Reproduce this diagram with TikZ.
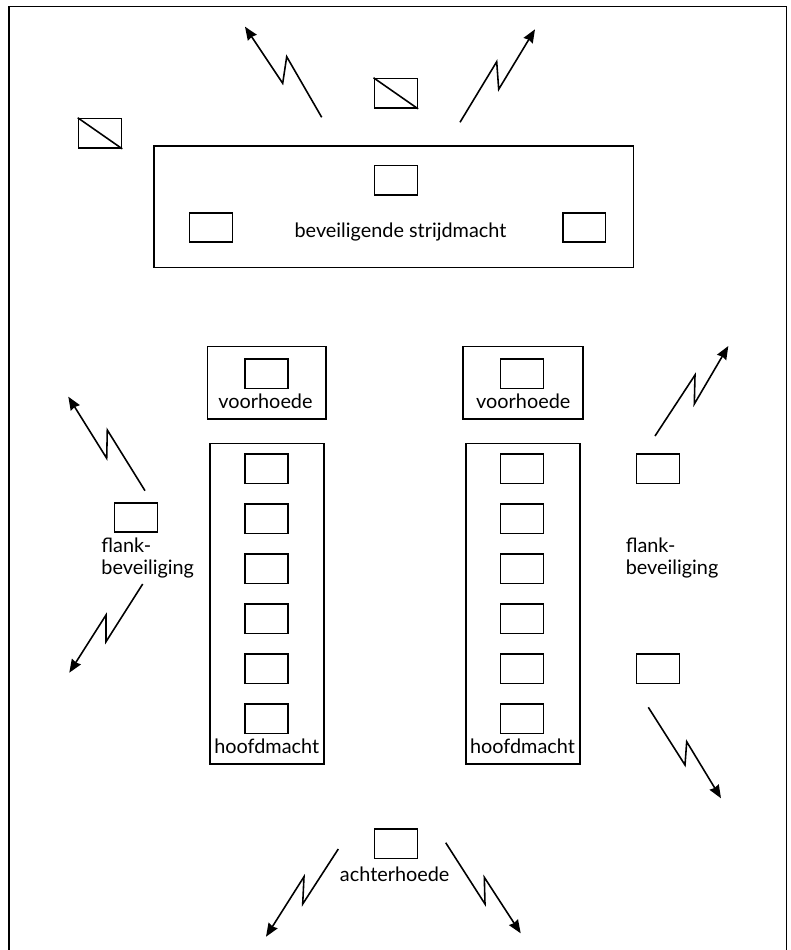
\documentclass[tikz,border=0pt]{standalone}
\usepackage{fontspec}
\setmainfont{Lato}
\usetikzlibrary{arrows.meta}

\begin{document}
\begin{tikzpicture}[x=0.02cm, y=-0.02cm, line width=0.9pt,
	unit/.style={draw, minimum width=0.86cm, minimum height=0.59cm, inner sep=0pt},
	frame/.style={draw, inner sep=0pt},
	lbl/.style={font=\fontsize{11.3}{12.5}\selectfont, inner sep=0pt},
	bolt/.style={-{Stealth[length=7.5pt,width=6pt,inset=0.6pt]}}]
	\useasboundingbox (0,0) rectangle (791,950);
	\draw[line width=0.6pt] (9,950) -- (9,6.7) -- (786.3,6.7) -- (786.3,950);
	% beveiligende strijdmacht
	\draw (393.7,206.9) node[frame, minimum width=9.59cm, minimum height=2.43cm](force) {};
	\draw (395.8,180.3) node[unit](fc) {};
	\draw (210.8,227.5) node[unit](fl) {};
	\draw (584.2,227.5) node[unit](fr) {};
	\draw (400.5,237.3) node[lbl, anchor=base](forcetxt) {beveiligende strijdmacht};
	\draw (100,133.3) node[unit](x1) {};
	\draw (x1.north west) -- (x1.south east);
	\draw (395.8,93.3) node[unit](x2) {};
	\draw (x2.north west) -- (x2.south east);
	\draw[bolt] (321.7,117.3) -- (286.7,56.7) -- (282.7,83.3) -- (245,26.7);
	\draw[bolt] (460,122.3) -- (496.7,61.7) -- (498.7,89.3) -- (535,29.3);
	% voorhoede
	\draw (266.8,382.9) node[frame, minimum width=2.37cm, minimum height=1.45cm](vl) {};
	\draw (266.3,373.7) node[unit](vlu) {};
	\draw (265.5,408.3) node[lbl, anchor=base](vltxt) {voorhoede};
	\draw (523,382.9) node[frame, minimum width=2.39cm, minimum height=1.45cm](vr) {};
	\draw (522,373.7) node[unit](vru) {};
	\draw (523.3,408.3) node[lbl, anchor=base](vrtxt) {voorhoede};
	% hoofdmacht
	\draw (267,603.7) node[frame, minimum width=2.28cm, minimum height=6.41cm](hl) {};
	\draw (523,603.7) node[frame, minimum width=2.28cm, minimum height=6.41cm](hr) {};
	\foreach \i in {0,...,5} {
		\draw (266.3,{468.7+50*\i}) node[unit](hl\i) {};
		\draw (522,{468.7+50*\i}) node[unit](hr\i) {};
	}
	\draw (266.7,753.3) node[lbl, anchor=base](hltxt) {hoofdmacht};
	\draw (522.5,753.3) node[lbl, anchor=base](hrtxt) {hoofdmacht};
	% flankbeveiliging
	\draw (135.8,517.5) node[unit](flk) {};
	\draw (100.7,574) node[lbl, anchor=base west, align=left](flktxt) {flank-\\beveiliging};
	\draw[bolt] (145,490.7) -- (107.3,430) -- (106.7,458.3) -- (68.3,396.7);
	\draw[bolt] (142.7,584) -- (106,641.7) -- (106,615) -- (69.3,672.7);
	\draw (658,468.7) node[unit](frk1) {};
	\draw (658,668.7) node[unit](frk2) {};
	\draw (625,574) node[lbl, anchor=base west, align=left](frktxt) {flank-\\beveiliging};
	\draw[bolt] (655,436) -- (695,375) -- (694.3,404) -- (728.3,346);
	\draw[bolt] (648.3,707.3) -- (685,765) -- (686.7,741.7) -- (721,798.3);
	% achterhoede
	\draw (395.8,843.7) node[unit](ach) {};
	\draw (394.7,881) node[lbl, anchor=base](achtxt) {achterhoede};
	\draw[bolt] (338.3,849) -- (302.7,904) -- (304,876.7) -- (266,936.7);
	\draw[bolt] (445.7,842.7) -- (485,904) -- (484.3,877.3) -- (520.7,933.3);
\end{tikzpicture}
\end{document}
